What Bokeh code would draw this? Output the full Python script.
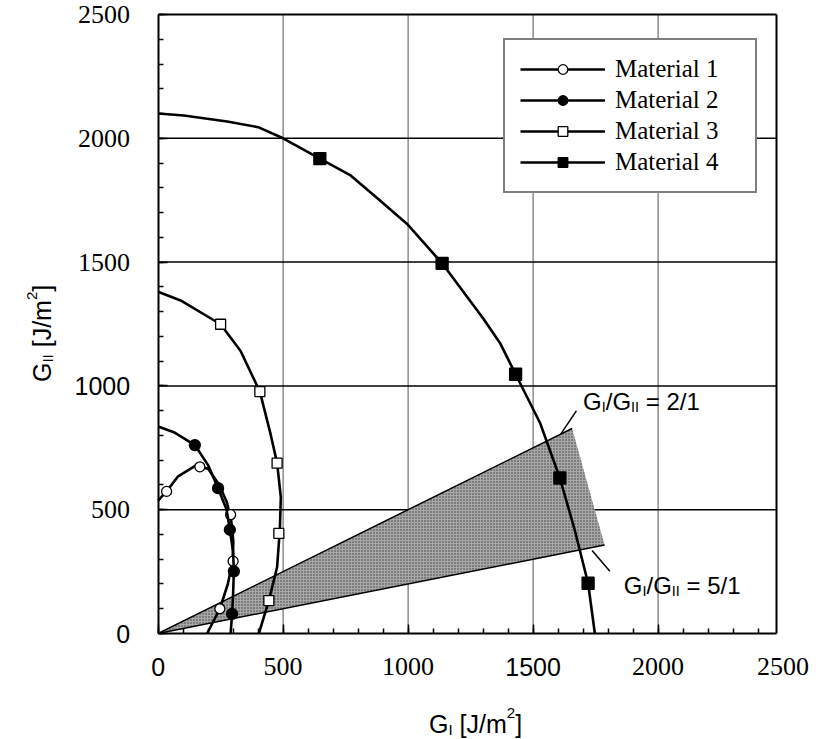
import math
from bokeh.plotting import figure
from bokeh.models import (Label, Legend, LegendItem, SingleIntervalTicker,
                          CustomJSTickFormatter, Range1d, LinearAxis)
from bokeh.embed import file_html
from bokeh.resources import INLINE

# ---------------- data ----------------
# Material 1 (open circles)
m1_curve_x = [0, 34, 80, 150, 200, 245, 275, 292, 301, 298, 279, 247, 196]
m1_curve_y = [537, 574, 635, 678, 665, 600, 530, 460, 370, 292, 200, 100, 0]
m1_pts_x = [34, 167, 290, 300, 247]
m1_pts_y = [574, 673, 480, 292, 100]

# Material 2 (filled circles)
m2_curve_x = [0, 63, 147, 200, 240, 274, 287, 300, 303, 300, 296, 290]
m2_curve_y = [836, 813, 761, 680, 587, 500, 419, 330, 251, 160, 79, 0]
m2_pts_x = [147, 240, 287, 303, 296]
m2_pts_y = [761, 587, 419, 251, 79]

# Material 3 (open squares)
m3_curve_x = [0, 90, 250, 330, 407, 450, 476, 491, 487, 476, 443, 403]
m3_curve_y = [1380, 1345, 1249, 1141, 977, 805, 688, 550, 420, 268, 133, 0]
m3_pts_x = [250, 407, 476, 483, 443]
m3_pts_y = [1249, 977, 688, 404, 133]

# Material 4 (filled squares)
m4_curve_x = [0, 103, 276, 400, 500, 647, 770, 876, 996, 1136, 1302, 1370, 1430,
              1528, 1607, 1666, 1720, 1747]
m4_curve_y = [2100, 2092, 2068, 2045, 2000, 1918, 1850, 1759, 1654, 1495, 1270, 1169,
              1047, 850, 628, 420, 203, 0]
m4_pts_x = [647, 1136, 1430, 1607, 1720]
m4_pts_y = [1918, 1495, 1047, 628, 203]

# mode-mix wedge: ratio G_I/G_II and far end of each ray
wedge_ratios = [2, 5]
wedge_x_end = [1656, 1786]

materials = ["Material 1", "Material 2", "Material 3", "Material 4"]

x_ticks = [0, 500, 1000, 1500, 2000, 2500]
y_ticks = [0, 500, 1000, 1500, 2000, 2500]
x_tick_fonts = ["Liberation Sans", "Liberation Serif", "Liberation Serif",
                "Liberation Sans", "Liberation Serif", "Liberation Serif"]
y_tick_fonts = ["Liberation Sans", "Liberation Serif", "Liberation Sans",
                "Liberation Serif", "Liberation Serif", "Liberation Serif"]

# axis box limits
X_MAX = 2472
Y_MAX = 2500

# ---------------- figure (frame = whole canvas, axes at fixed locations) --------
W_CAN, H_CAN = 820, 739
X0_PX, Y0_PX = 157.6, 633.0   # canvas position of data origin
PXX = 0.25                    # px per unit x
PXY = (633.0 - 14.0) / 2500   # px per unit y
x_lo = -X0_PX / PXX
x_hi = (W_CAN - X0_PX) / PXX
y_lo = -(H_CAN - Y0_PX) / PXY
y_hi = Y0_PX / PXY

p = figure(width=W_CAN, height=H_CAN, x_range=Range1d(x_lo, x_hi), y_range=Range1d(y_lo, y_hi),
           x_axis_location=None, y_axis_location=None,
           min_border=0, min_border_left=0, min_border_right=0, min_border_top=0,
           min_border_bottom=0, output_backend="svg", toolbar_location=None)
p.background_fill_color = "white"
p.border_fill_color = "white"
p.outline_line_color = None
for g in p.grid:
    g.visible = False

blank = CustomJSTickFormatter(code="return ''")


def make_axis(loc, bounds, ticks=True):
    ax = LinearAxis(fixed_location=loc, bounds=bounds,
                    ticker=SingleIntervalTicker(interval=500, num_minor_ticks=5),
                    formatter=blank, axis_label=None)
    ax.axis_line_color = "black"
    ax.axis_line_width = 2
    ax.major_label_standoff = 0
    ax.major_tick_out = 0
    ax.minor_tick_out = 0
    if ticks:
        ax.major_tick_in = 9
        ax.minor_tick_in = 5
        ax.major_tick_line_color = "black"
        ax.minor_tick_line_color = "black"
        ax.major_tick_line_width = 1.5
        ax.minor_tick_line_width = 1.5
    else:
        ax.major_tick_line_color = None
        ax.minor_tick_line_color = None
    return ax


p.add_layout(make_axis(0, (0, X_MAX)), "below")
p.add_layout(make_axis(0, (0, Y_MAX)), "left")
p.add_layout(make_axis(X_MAX, (0, Y_MAX), ticks=False), "right")
p.add_layout(make_axis(Y_MAX, (0, X_MAX), ticks=False), "above")

# grid lines at the inner ticks
inner_x = [t for t in x_ticks if 0 < t < X_MAX]
inner_y = [t for t in y_ticks if 0 < t < Y_MAX]
p.segment(x0=inner_x, y0=[0] * len(inner_x), x1=inner_x, y1=[Y_MAX] * len(inner_x),
          line_color="#555555", line_width=1, level="underlay")
p.segment(x0=[0] * len(inner_y), y0=inner_y, x1=[X_MAX] * len(inner_y), y1=inner_y,
          line_color="black", line_width=1.5, level="underlay")

# wedge
up_y = wedge_x_end[0] / wedge_ratios[0]
lo_y = wedge_x_end[1] / wedge_ratios[1]
p.patch(x=[0, wedge_x_end[0], wedge_x_end[1]], y=[0, up_y, lo_y],
        fill_color="#a8a8a8", line_color=None,
        hatch_pattern="dot", hatch_color="#3a3a3a", hatch_scale=3, hatch_weight=1)
p.line(x=[0, wedge_x_end[0]], y=[0, up_y], line_color="black", line_width=1.5)
p.line(x=[0, wedge_x_end[1]], y=[0, lo_y], line_color="black", line_width=1.5)

# leader lines for the annotations
p.segment(x0=[1673, 1807], y0=[899, 251], x1=[1610, 1736], y1=[804, 335],
          line_color="black", line_width=1.5)

# curves and markers
curves = [(m1_curve_x, m1_curve_y), (m2_curve_x, m2_curve_y),
          (m3_curve_x, m3_curve_y), (m4_curve_x, m4_curve_y)]
pts = [(m1_pts_x, m1_pts_y), (m2_pts_x, m2_pts_y),
       (m3_pts_x, m3_pts_y), (m4_pts_x, m4_pts_y)]
styles = [("circle", "white", 10), ("circle", "black", 11),
          ("square", "white", 10), ("square", "black", 12)]

items = []
for name, (cx, cy), (px_, py_), (mk, fc, sz) in zip(materials, curves, pts, styles):
    ln = p.line(cx, cy, line_color="black", line_width=2.6, line_join="round")
    sc = p.scatter(px_, py_, marker=mk, size=sz, fill_color=fc, line_color="black",
                   line_width=1.3)
    items.append(LegendItem(label=name, renderers=[ln, sc]))

legend = Legend(items=items, location=(503, 546))
legend.label_text_font = "Liberation Serif"
legend.label_text_font_size = "25px"
legend.label_text_color = "black"
legend.border_line_color = "black"
legend.border_line_width = 2
legend.background_fill_color = "white"
legend.background_fill_alpha = 1
legend.glyph_width = 85
legend.glyph_height = 24
legend.label_height = 26
legend.label_width = 125
legend.label_standoff = 10
legend.spacing = 3
legend.padding = 15
legend.margin = 0
p.add_layout(legend)

# ---------------- tick labels ----------------
for v, f in zip(y_ticks, y_tick_fonts):
    p.add_layout(Label(x=0, y=v, x_offset=-28, text=str(v),
                       text_align="right", text_baseline="middle", text_font=f,
                       text_font_size="25px" if "Sans" in f else "26px", text_color="black"))
for v, f in zip(x_ticks, x_tick_fonts):
    p.add_layout(Label(x=v, y=0, y_offset=-33, text=str(v),
                       text_align="center", text_baseline="middle", text_font=f,
                       text_font_size="25px" if "Sans" in f else "26px", text_color="black"))

# ---------------- rich text helper ----------------
NB = "\u00a0"
WID = {'G': 0.778, 'I': 0.278, ' ': 0.278, NB: 0.278, '[': 0.278, 'J': 0.5, '/': 0.278,
       'm': 0.833, '2': 0.556, ']': 0.278, '=': 0.584, '1': 0.556, '5': 0.556}


def rich(pieces, x, y, base, dx=0.0, dy0=0.0, rotate=False, center=False):
    specs = []
    total = 0.0
    for txt, kind in pieces:
        size = base if kind == "n" else base * 0.6
        shift = 0 if kind == "n" else (-base * 0.22 if kind == "sub" else base * 0.42)
        specs.append((txt, size, shift, total))
        total += sum(WID.get(c, 0.55) for c in txt) * size
    start = -total / 2 if center else 0.0
    for txt, size, shift, adv in specs:
        if rotate:
            xo, yo, ang = dx - shift, dy0 + start + adv, math.pi / 2
        else:
            xo, yo, ang = dx + start + adv, dy0 + shift, 0
        p.add_layout(Label(x=x, y=y, x_offset=xo, y_offset=yo,
                           angle=ang, text=txt, text_font="Liberation Sans",
                           text_font_size=f"{size:.1f}px", text_align="left",
                           text_baseline="alphabetic", text_color="black"))


rich([("G", "n"), ("I", "sub"), (NB + "[J/m", "n"), ("2", "sup"), ("]", "n")],
     1270, 0, 25, dy0=-90, center=True)
rich([("G", "n"), ("II", "sub"), (NB + "[J/m", "n"), ("2", "sup"), ("]", "n")],
     0, 1212, 25, dx=-116, rotate=True, center=True)
rich([("G", "n"), ("I", "sub"), ("/G", "n"), ("II", "sub"), (NB + "=" + NB + "2/1", "n")],
     1700, 935, 24)
rich([("G", "n"), ("I", "sub"), ("/G", "n"), ("II", "sub"), (NB + "=" + NB + "5/1", "n")],
     1863, 193, 24)

open("out.html", "w").write(file_html(p, INLINE))
